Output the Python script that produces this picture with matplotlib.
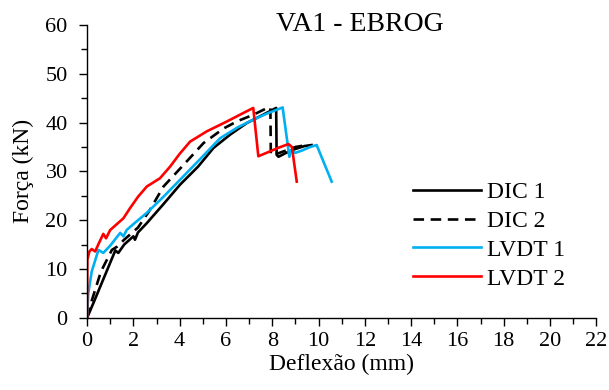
import numpy as np
import matplotlib
matplotlib.use("Agg")
import matplotlib.pyplot as plt
from matplotlib.ticker import MultipleLocator

plt.rcParams["font.family"] = ["Liberation Serif", "DejaVu Serif"]

# deflection (mm) / force (kN)
dic1_x = [0.0, 0.27, 0.78, 1.14, 1.22, 1.35, 1.6, 2.0, 2.07, 2.2, 2.58, 3.3, 4.02, 4.8, 5.46, 6.2, 6.9, 7.6, 8.17, 8.19, 8.27, 8.6, 9.0, 9.4, 9.7]
dic1_y = [0.0, 3.0, 8.8, 12.9, 13.8, 13.3, 15.0, 16.7, 16.0, 17.5, 19.4, 23.3, 27.3, 31.0, 34.8, 37.6, 39.9, 41.6, 43.0, 33.4, 33.0, 33.8, 34.6, 35.2, 35.4]

dic2_x = [0.0, 0.2, 0.6, 1.07, 1.3, 1.6, 2.2, 2.7, 3.3, 4.2, 5.03, 5.9, 6.5, 7.18, 7.7, 7.92, 7.94, 8.2, 8.6, 9.0, 9.5]
dic2_y = [0.0, 3.5, 9.5, 13.9, 14.6, 16.0, 18.5, 22.0, 26.9, 31.5, 35.8, 38.8, 40.3, 41.6, 42.8, 43.1, 33.4, 33.6, 34.3, 35.0, 35.4]

lvdt1_x = [0.0, 0.05, 0.2, 0.49, 0.6, 0.7, 1.0, 1.43, 1.57, 1.71, 2.1, 2.58, 3.3, 4.02, 4.9, 5.75, 6.5, 7.18, 7.8, 8.45, 8.74, 8.8, 9.0, 9.3, 9.64, 9.92, 10.57]
lvdt1_y = [0.0, 5.0, 9.5, 13.9, 13.6, 13.3, 14.8, 17.4, 16.7, 18.0, 19.6, 21.5, 24.8, 28.3, 32.6, 36.8, 39.0, 40.6, 41.9, 43.1, 33.0, 34.3, 33.8, 34.3, 35.0, 35.4, 27.9]

lvdt2_x = [0.0, 0.01, 0.1, 0.2, 0.35, 0.5, 0.7, 0.82, 1.0, 1.57, 1.86, 2.2, 2.58, 3.15, 3.59, 4.0, 4.45, 5.17, 6.03, 6.6, 7.18, 7.4, 7.8, 8.3, 8.7, 8.85, 9.06]
lvdt2_y = [0.0, 11.9, 13.6, 14.1, 13.6, 15.2, 17.2, 16.3, 18.0, 20.4, 22.5, 24.8, 26.9, 28.6, 31.0, 33.6, 36.1, 38.2, 40.2, 41.6, 43.0, 33.1, 33.9, 34.9, 35.6, 35.0, 27.9]

series = [
    ("DIC 1", dic1_x, dic1_y, "black", "-"),
    ("DIC 2", dic2_x, dic2_y, "black", (0, (4, 2.5))),
    ("LVDT 1", lvdt1_x, lvdt1_y, "#00b0f0", "-"),
    ("LVDT 2", lvdt2_x, lvdt2_y, "#ff0000", "-"),
]

fig = plt.figure(figsize=(6.09, 3.9), dpi=100)
ax = fig.add_axes([0.143, 0.185, 0.836, 0.751])

for label, x, y, color, ls in series:
    ax.plot(x, y, color=color, linestyle=ls, linewidth=1.9, label=label)

ax.set_xlim(0, 22)
ax.set_ylim(0, 60)
ax.xaxis.set_major_locator(MultipleLocator(2))
ax.xaxis.set_minor_locator(MultipleLocator(1))
ax.yaxis.set_major_locator(MultipleLocator(10))
ax.yaxis.set_minor_locator(MultipleLocator(5))
ax.tick_params(which="major", direction="out", length=5.5, width=1, labelsize=16, color="black", pad=5)
ax.tick_params(axis="y", which="major", pad=8.5)
ax.tick_params(which="minor", direction="out", length=4, width=1)
for side in ["top", "right"]:
    ax.spines[side].set_visible(False)
for side in ["left", "bottom"]:
    ax.spines[side].set_linewidth(1)

ax.set_xlabel("Deflexão (mm)", fontsize=17, labelpad=2)
ax.set_ylabel("Força (kN)", fontsize=17, labelpad=8)
ax.text(0.536, 1.0, "VA1 - EBROG", transform=ax.transAxes, fontsize=20,
        ha="center", va="center")

ax.legend(loc="upper left", bbox_to_anchor=(0.621, 0.498), frameon=False, fontsize=17,
          handlelength=2.9, labelspacing=0.31, handletextpad=0.25, borderaxespad=0)

fig.savefig("out.png", dpi=100)
